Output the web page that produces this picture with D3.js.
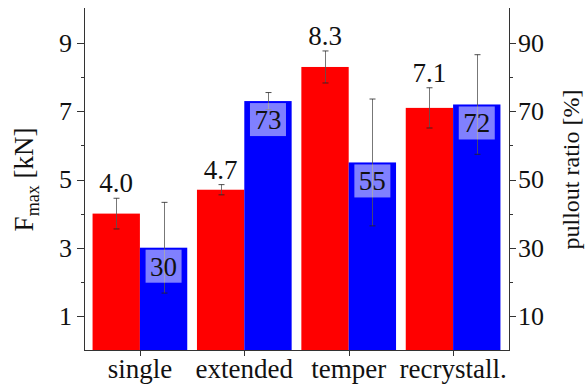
<!DOCTYPE html>
<html>
<head>
<meta charset="utf-8">
<script src="https://cdn.jsdelivr.net/npm/d3@7"></script>
<style>
  html, body { margin: 0; padding: 0; background: #fff; }
  svg { display: block; }
</style>
</head>
<body>
<svg id="chart" width="587" height="387"></svg>
<script>
// Pullout tests: maximum force (left axis) and pullout ratio (right axis)
const categories = ["single", "extended", "temper", "recrystall."];
const forceValues = [4.0, 4.7, 8.3, 7.1];        // F_max [kN]
const forceErrors = [0.45, 0.15, 0.47, 0.59];
const forceLabels = ["4.0", "4.7", "8.3", "7.1"];
const ratioValues = [30, 73, 55, 72];            // pullout ratio [%]
const ratioErrors = [13.3, 2.5, 18.6, 14.6];
const ratioLabels = ["30", "73", "55", "72"];
const leftTicks = [1, 3, 5, 7, 9];
const leftMinor = [2, 4, 6, 8];
const rightTicks = [10, 30, 50, 70, 90];
const rightMinor = [20, 40, 60, 80];

const FONT = "Liberation Serif";
const svg = d3.select("#chart");
const margin = { left: 84, right: 78, top: 9, bottom: 37 };
const W = 587, H = 387;
const x0 = margin.left, x1 = W - margin.right, yTop = margin.top, yBot = H - margin.bottom;

const x = d3.scaleBand().domain(categories).range([x0, x1]).paddingInner(0.093).paddingOuter(0.082);
const xs = d3.scaleBand().domain(["force", "ratio"]).range([0, x.bandwidth()]).padding(0);
const yL = d3.scaleLinear().domain([0, 10]).range([yBot, yTop]);
const yR = d3.scaleLinear().domain([0, 100]).range([yBot, yTop]);

const rows = categories.map((c, i) => ({
  c, f: forceValues[i], fe: forceErrors[i], fl: forceLabels[i],
  r: ratioValues[i], re: ratioErrors[i], rl: ratioLabels[i]
}));

const g = svg.append("g");

// bars
g.selectAll("rect.force").data(rows).join("rect")
  .attr("x", d => x(d.c) + xs("force"))
  .attr("y", d => yL(d.f))
  .attr("width", xs.bandwidth())
  .attr("height", d => yBot - yL(d.f))
  .attr("fill", "#ff0000");
g.selectAll("rect.ratio").data(rows).join("rect")
  .attr("x", d => x(d.c) + xs("ratio"))
  .attr("y", d => yR(d.r))
  .attr("width", xs.bandwidth())
  .attr("height", d => yBot - yR(d.r))
  .attr("fill", "#0000ff");

// error bars
function errorBars(cx, lo, hi) {
  const eg = g.append("g").attr("stroke", "#555").attr("stroke-opacity", 0.8).attr("stroke-width", 1);
  rows.forEach(d => {
    const cxv = Math.round(cx(d)) + 0.5, ylo = lo(d), yhi = hi(d);
    eg.append("line").attr("x1", cxv).attr("x2", cxv).attr("y1", ylo).attr("y2", yhi);
    eg.append("line").attr("x1", cxv - 3).attr("x2", cxv + 3).attr("y1", ylo).attr("y2", ylo).attr("stroke", "#222");
    eg.append("line").attr("x1", cxv - 3).attr("x2", cxv + 3).attr("y1", yhi).attr("y2", yhi).attr("stroke", "#222");
  });
}
errorBars(d => x(d.c) + xs("force") + xs.bandwidth() / 2, d => yL(d.f - d.fe), d => yL(d.f + d.fe));
errorBars(d => x(d.c) + xs("ratio") + xs.bandwidth() / 2, d => yR(d.r - d.re), d => yR(d.r + d.re));

// force labels above bars
g.selectAll("text.fl").data(rows).join("text")
  .attr("x", d => x(d.c) + xs("force") + xs.bandwidth() / 2)
  .attr("y", d => yL(d.f + d.fe) - 6)
  .attr("text-anchor", "middle")
  .attr("font-family", FONT)
  .attr("font-size", 27)
  .attr("fill", "#111")
  .text(d => d.fl);

// ratio labels inside bars on translucent boxes
const lg = g.selectAll("g.rl").data(rows).join("g")
  .attr("transform", d => `translate(${x(d.c) + xs("ratio") + xs.bandwidth() / 2},${yR(d.r) + 2})`);
lg.append("rect").attr("x", -18).attr("y", 0).attr("width", 36).attr("height", 33)
  .attr("fill", "#fff").attr("fill-opacity", 0.5);
lg.append("text").attr("x", 0).attr("y", 26).attr("text-anchor", "middle")
  .attr("font-family", FONT).attr("font-size", 27).attr("fill", "#111").text(d => d.rl);

// axes
const axisColor = "#333";
const ax = svg.append("g").attr("stroke", axisColor).attr("stroke-width", 1).attr("fill", "none");
ax.append("line").attr("x1", x0 + 0.5).attr("x2", x0 + 0.5).attr("y1", yTop - 1).attr("y2", yBot + 1);
ax.append("line").attr("x1", x1 + 0.5).attr("x2", x1 + 0.5).attr("y1", yTop - 1).attr("y2", yBot + 1);
ax.append("line").attr("x1", x0).attr("x2", x1 + 1).attr("y1", yBot + 0.5).attr("y2", yBot + 0.5);

leftTicks.forEach(v => ax.append("line").attr("x1", x0 - 7).attr("x2", x0).attr("y1", Math.round(yL(v)) + 0.5).attr("y2", Math.round(yL(v)) + 0.5));
leftMinor.forEach(v => ax.append("line").attr("x1", x0 - 3).attr("x2", x0).attr("y1", Math.round(yL(v)) + 0.5).attr("y2", Math.round(yL(v)) + 0.5));
rightTicks.forEach(v => ax.append("line").attr("x1", x1 + 1).attr("x2", x1 + 7).attr("y1", Math.round(yR(v)) + 0.5).attr("y2", Math.round(yR(v)) + 0.5));
rightMinor.forEach(v => ax.append("line").attr("x1", x1 + 1).attr("x2", x1 + 4).attr("y1", Math.round(yR(v)) + 0.5).attr("y2", Math.round(yR(v)) + 0.5));
categories.forEach(c => {
  const cx = Math.round(x(c) + x.bandwidth() / 2) + 0.5;
  ax.append("line").attr("x1", cx).attr("x2", cx).attr("y1", yBot).attr("y2", yBot + 6);
});

const tl = svg.append("g").attr("font-family", FONT).attr("font-size", 26).attr("fill", "#111");
leftTicks.forEach(v => tl.append("text").attr("x", x0 - 12).attr("y", yL(v)).attr("dy", "0.34em")
  .attr("text-anchor", "end").text(v));
rightTicks.forEach(v => tl.append("text").attr("x", x1 + 9).attr("y", yR(v)).attr("dy", "0.34em")
  .attr("text-anchor", "start").text(v));
categories.forEach(c => tl.append("text").attr("x", x(c) + x.bandwidth() / 2).attr("y", 378)
  .attr("text-anchor", "middle").attr("font-size", 27).text(c));

// axis titles
const midY = (yTop + yBot) / 2;
const lt = svg.append("text").attr("transform", `translate(33,${midY}) rotate(-90)`)
  .attr("text-anchor", "middle").attr("font-family", FONT).attr("font-size", 27).attr("fill", "#111");
lt.append("tspan").text("F");
lt.append("tspan").attr("font-size", 18).attr("dy", 6).text("max");
lt.append("tspan").attr("dy", -6).text(" [kN]");

svg.append("text").attr("transform", `translate(579,${midY - 10}) rotate(-90)`)
  .attr("text-anchor", "middle").attr("font-family", FONT).attr("font-size", 24).attr("fill", "#111")
  .text("pullout ratio [%]");
</script>
</body>
</html>
